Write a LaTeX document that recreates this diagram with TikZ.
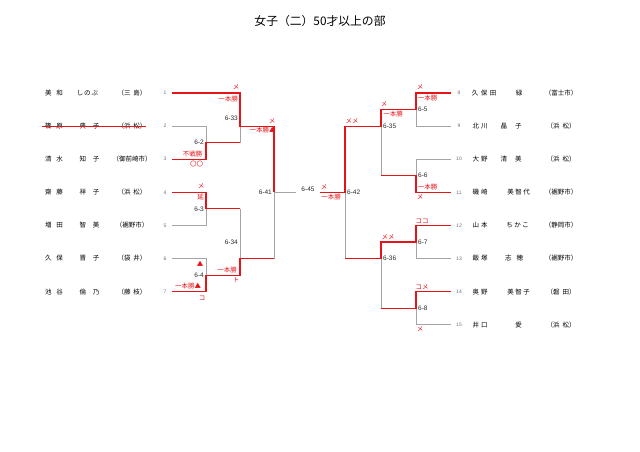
\documentclass[tikz,border=0pt]{standalone}
\usepackage{fontspec}
\usepackage{xcolor}
\usepackage{tikz}
\setmainfont{Noto Sans CJK JP}
\newfontfamily\digitfont{Liberation Sans}
\definecolor{bracketred}{RGB}{230,20,25}
\definecolor{bracketgray}{RGB}{165,165,165}
\definecolor{seedgray}{RGB}{110,110,110}

\tikzset{
  entrytxt/.style={font=\fontsize{6.5}{7}\selectfont, inner sep=0pt},
  seedno/.style={font=\digitfont\fontsize{5}{6}\selectfont, text=seedgray, inner sep=0pt, minimum width=14pt},
  matchno/.style={font=\digitfont\fontsize{6.5}{7}\selectfont, text=black!85, inner sep=0pt},
  scoremark/.style={font=\fontsize{6.5}{7}\selectfont, text=bracketred, inner sep=0pt},
  winline/.style={draw=bracketred, line width=1.1pt},
  loseline/.style={draw=bracketgray, line width=0.7pt},
}

% seed, surname, surname x, given, given x, club
\newcommand{\lentry}[6]{%
  \node[seedno] (n#1) at (165,{93+33.1*(#1-1)}) {#1};
  \node[entrytxt] (s#1) at (#3,{93+33.1*(#1-1)}) {#2};
  \node[entrytxt] (g#1) at (#5,{93+33.1*(#1-1)}) {#4};
  \node[entrytxt] (c#1) at (132,{93+33.1*(#1-1)}) {#6};
}
\newcommand{\rentry}[6]{%
  \node[seedno, minimum width=16pt] (n#1) at (459,{93+33.1*(#1-8)}) {#1};
  \node[entrytxt] (s#1) at (#3,{93+33.1*(#1-8)}) {#2};
  \node[entrytxt] (g#1) at (#5,{93+33.1*(#1-8)}) {#4};
  \node[entrytxt] (c#1) at (561,{93+33.1*(#1-8)}) {#6};
}

\begin{document}
\begin{tikzpicture}[x=1pt, y=-1pt]
    \useasboundingbox (0,0) rectangle (640,452);
    \node[font=\fontsize{11.8}{13}\selectfont] (title) at (320,21) {女子（二）50才以上の部};

    % left half
    \lentry{1}{美\hspace{5pt}和}{54}{し\hspace{1pt}の\hspace{1pt}ぶ}{87.5}{（三\hspace{3pt}島）}
    \lentry{2}{篠\hspace{5pt}原}{54}{典\hspace{7pt}子}{89.5}{（浜\hspace{3pt}松）}
    \lentry{3}{清\hspace{5pt}水}{54}{知\hspace{7pt}子}{89.5}{（御前崎市）}
    \lentry{4}{齋\hspace{5pt}藤}{54}{祥\hspace{7pt}子}{89.5}{（浜\hspace{3pt}松）}
    \lentry{5}{増\hspace{5pt}田}{54}{智\hspace{7pt}美}{89.5}{（裾野市）}
    \lentry{6}{久\hspace{5pt}保}{54}{晋\hspace{7pt}子}{89.5}{（袋\hspace{3pt}井）}
    \lentry{7}{池\hspace{5pt}谷}{54}{倫\hspace{7pt}乃}{89.5}{（藤\hspace{3pt}枝）}
    \draw[bracketred, line width=0.6pt] ([xshift=-3pt]s2.west) -- ([xshift=-1pt]c2.east);

    % right half
    \rentry{8}{久\hspace{2.5pt}保\hspace{2.5pt}田}{484}{緑}{519}{（富士市）}
    \rentry{9}{北\hspace{2pt}川}{480}{晶\hspace{8pt}子}{511}{（浜\hspace{3pt}松）}
    \rentry{10}{大\hspace{2pt}野}{480}{清\hspace{8pt}美}{511}{（浜\hspace{3pt}松）}
    \rentry{11}{磯\hspace{2pt}崎}{480}{美\hspace{1.5pt}智\hspace{1.5pt}代}{518.5}{（裾野市）}
    \rentry{12}{山\hspace{2pt}本}{480}{ち\hspace{1.5pt}か\hspace{1.5pt}こ}{517.5}{（静岡市）}
    \rentry{13}{飯\hspace{2pt}塚}{480}{志\hspace{5pt}穂}{514}{（裾野市）}
    \rentry{14}{奥\hspace{2pt}野}{480}{美\hspace{1.5pt}智\hspace{1.5pt}子}{518.5}{（磐\hspace{3pt}田）}
    \rentry{15}{井\hspace{2pt}口}{480}{愛}{518.5}{（浜\hspace{3pt}松）}

    % match points
    \coordinate (m2) at (206,142.65);
    \coordinate (m3) at (206,208.85);
    \coordinate (m4) at (206,275.05);
    \coordinate (m33) at (240,126.1);
    \coordinate (m34) at (240,258.5);
    \coordinate (m41) at (274,192.3);
    \coordinate (m5) at (416,109.55);
    \coordinate (m6) at (416,175.75);
    \coordinate (m7) at (416,241.95);
    \coordinate (m8) at (416,308.15);
    \coordinate (m35) at (381,126.1);
    \coordinate (m36) at (381,258.5);
    \coordinate (m42) at (345,192.3);
    \node[matchno, minimum width=24pt] (m45) at (308,189.5) {6-45};

    % left bracket
    \draw[loseline] (n2.east) -| (m2);
    \draw[loseline] (m2 -| m33) -- (m33);
    \draw[loseline] (n5.east) -| (m3);
    \draw[loseline] (n6.east) -| (m4);
    \draw[loseline] (m3 -| m34) -- (m34);
    \draw[loseline] (m34 -| m41) -- (m41);
    \draw[loseline] (m41) -- (m41 -| m45.west);
    \draw[winline] (n1.east) -| (m33) -| (m41);
    \draw[winline] (n3.east) -| (m2) -- (m2 -| m33);
    \draw[winline] (n4.east) -| (m3) -- (m3 -| m34);
    \draw[winline] (n7.east) -| (m4) -| (m34) -- (m34 -| m41);

    % right bracket
    \draw[loseline] (n9.west) -| (m5);
    \draw[loseline] (n10.west) -| (m6);
    \draw[loseline] (m6 -| m35) -- (m35);
    \draw[loseline] (n13.west) -| (m7);
    \draw[loseline] (n15.west) -| (m8);
    \draw[loseline] (m8 -| m36) -- (m36);
    \draw[loseline] (m36 -| m42) -- (m42);
    \draw[winline] (n8.west) -| (m5) -| (m35) -| (m42) -- (m42 -| m45.east);
    \draw[winline] (n11.west) -| (m6) -- (m6 -| m35);
    \draw[winline] (n12.west) -| (m7) -| (m36) -- (m36 -| m42);
    \draw[winline] (n14.west) -| (m8) -- (m8 -| m36);

    % match numbers
    \node[matchno, anchor=east] (l2) at (204,142.65) {6-2};
    \node[matchno, anchor=east] (l3) at (204,208.85) {6-3};
    \node[matchno, anchor=east] (l4) at (204,275.05) {6-4};
    \node[matchno, anchor=east] (l33) at (238,117.8) {6-33};
    \node[matchno, anchor=east] (l34) at (238,241.8) {6-34};
    \node[matchno, anchor=east] (l41) at (272,192.3) {6-41};
    \node[matchno, anchor=west] (l5) at (418,109.55) {6-5};
    \node[matchno, anchor=west] (l6) at (418,175.75) {6-6};
    \node[matchno, anchor=west] (l7) at (418,241.95) {6-7};
    \node[matchno, anchor=west] (l8) at (418,308.15) {6-8};
    \node[matchno, anchor=west] (l35) at (383,126.1) {6-35};
    \node[matchno, anchor=west] (l36) at (383,258.5) {6-36};
    \node[matchno, anchor=west] (l42) at (347,192.3) {6-42};

    % scores
    \node[scoremark] (k1) at (236,87) {メ};
    \node[scoremark] (k2) at (228,99) {一本勝};
    \node[scoremark] (k3) at (192.5,154.5) {不戦勝};
    \node[scoremark] (k4) at (196.5,164) {〇〇};
    \node[scoremark] (k5) at (272,121.5) {メ};
    \node[scoremark] (k6) at (262.5,130.5) {一本勝▲};
    \node[scoremark] (k7) at (201,186) {メ};
    \node[scoremark] (k8) at (200.5,197) {延};
    \node[scoremark] (k9) at (200,264) {▲};
    \node[scoremark] (k10) at (188,286) {一本勝▲};
    \node[scoremark] (k11) at (202,298) {コ};
    \node[scoremark] (k12) at (227,270.5) {一本勝};
    \node[scoremark] (k13) at (236,280) {ト};
    \node[scoremark] (k14) at (420,87.5) {メ};
    \node[scoremark] (k15) at (427.5,98) {一本勝};
    \node[scoremark] (k16) at (384,104) {メ};
    \node[scoremark] (k17) at (393,114) {一本勝};
    \node[scoremark] (k18) at (427.5,187.5) {一本勝};
    \node[scoremark] (k19) at (420,197.5) {メ};
    \node[scoremark] (k20) at (422,221) {ココ};
    \node[scoremark] (k21) at (388,237.5) {メメ};
    \node[scoremark] (k22) at (422,287.5) {コメ};
    \node[scoremark] (k23) at (420,329.5) {メ};
    \node[scoremark] (k24) at (352,121.5) {メメ};
    \node[scoremark] (k25) at (324,187.5) {メ};
    \node[scoremark] (k26) at (331,197.5) {一本勝};
\end{tikzpicture}
\end{document}
